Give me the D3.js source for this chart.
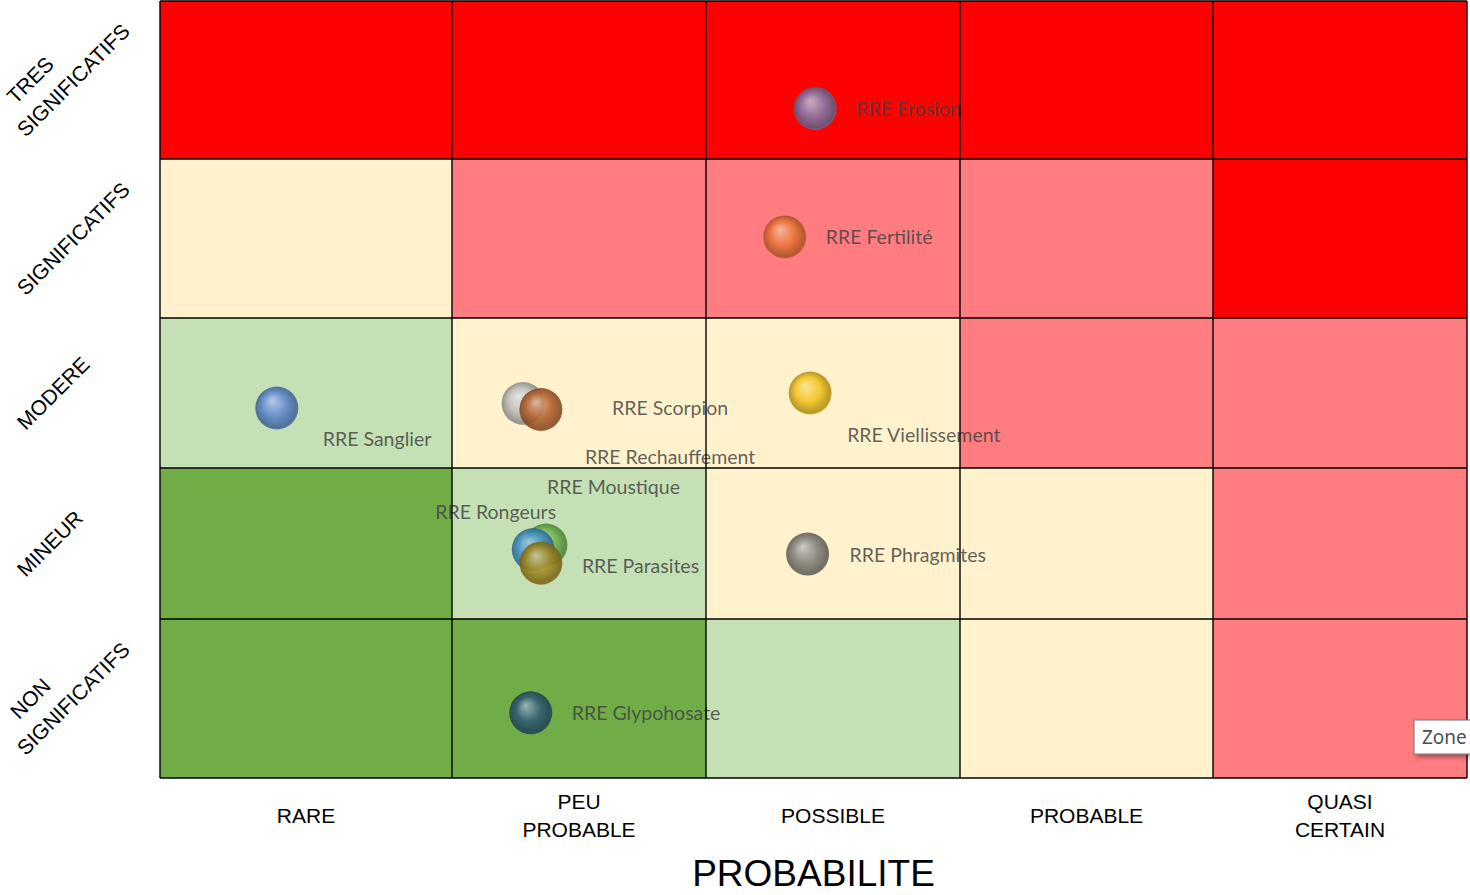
<!DOCTYPE html>
<html>
<head>
<meta charset="utf-8">
<script src="https://cdn.jsdelivr.net/npm/d3@7"></script>
<style>
  html, body { margin: 0; padding: 0; background: #fff; }
  svg { display: block; }
</style>
</head>
<body>
<svg id="chart" width="1470" height="895"></svg>
<script>
// ---------- DATA ----------
const probabilityLabels = [["RARE"], ["PEU", "PROBABLE"], ["POSSIBLE"], ["PROBABLE"], ["QUASI", "CERTAIN"]];
const impactLabels = [["NON", "SIGNIFICATIFS"], ["MINEUR"], ["MODERE"], ["SIGNIFICATIFS"], ["TRES", "SIGNIFICATIFS"]]; // bottom -> top
// risk level per cell, rows from bottom (NON SIGNIFICATIFS) to top, columns RARE -> QUASI CERTAIN
const riskLevels = [
  ["vert", "vert", "vertclair", "jaune", "rose"],
  ["vert", "vertclair", "jaune", "jaune", "rose"],
  ["vertclair", "jaune", "jaune", "rose", "rose"],
  ["jaune", "rose", "rose", "rose", "rouge"],
  ["rouge", "rouge", "rouge", "rouge", "rouge"]
];
const riskNames = ["RRE Moustique", "RRE Rongeurs", "RRE Parasites", "RRE Erosion", "RRE Fertilité", "RRE Sanglier",
                   "RRE Scorpion", "RRE Rechauffement", "RRE Viellissement", "RRE Phragmites", "RRE Glypohosate"];
const probabilityValues = [1.37, 1.32, 1.35, 2.43, 2.31, 0.40, 1.28, 1.35, 2.41, 2.40, 1.31];
const impactValues      = [1.49, 1.46, 1.37, 4.32, 3.51, 2.40, 2.43, 2.39, 2.50, 1.43, 0.41];
const axisTitle = "PROBABILITE";

// ---------- STYLE / LAYOUT ----------
const levelColors = { vert: "#70AD47", vertclair: "#C5E0B4", jaune: "#FFF2CC", rose: "#FF7C80", rouge: "#FF0000" };
const bubbleColors = ["#6DB24C", "#3F8FC2", "#A48A1E", "#857CAE", "#EA7437", "#5A86CC",
                      "#BDBDBD", "#B4602A", "#F2C21C", "#808078", "#2F5B73"];
// label offsets (px) relative to bubble centre
const labelOffsets = [[1, -59], [-98, -38], [41, 2], [41, 0], [41, 0], [46, 30],
                      [89, 4], [44, 47], [37, 41], [42, 0], [41, 0]];
const bubbleRadius = 21.5;

const svg = d3.select("#chart");
const colBounds = [160, 452, 706, 960, 1213, 1467];
const rowBounds = [778, 619, 468, 318, 159, 1];
const x = d3.scaleLinear().domain([0, 1, 2, 3, 4, 5]).range(colBounds);
const y = d3.scaleLinear().domain([0, 1, 2, 3, 4, 5]).range(rowBounds);

// ---------- CELLS ----------
const cells = [];
riskLevels.forEach((row, r) => row.forEach((lvl, c) => cells.push({ r, c, lvl })));
svg.append("g").selectAll("rect").data(cells).join("rect")
  .attr("x", d => x(d.c)).attr("y", d => y(d.r + 1))
  .attr("width", d => x(d.c + 1) - x(d.c))
  .attr("height", d => y(d.r) - y(d.r + 1))
  .attr("fill", d => levelColors[d.lvl]);

// ---------- GRADIENTS ----------
const defs = svg.append("defs");
bubbleColors.forEach((col, i) => {
  const base = d3.color(col);
  const g = defs.append("radialGradient").attr("id", "bg" + i)
    .attr("cx", "50%").attr("cy", "50%").attr("r", "52%").attr("fx", "38%").attr("fy", "32%");
  g.append("stop").attr("offset", "0%").attr("stop-color", d3.interpolateRgb(col, "#ffffff")(0.55));
  g.append("stop").attr("offset", "55%").attr("stop-color", col);
  g.append("stop").attr("offset", "90%").attr("stop-color", base.darker(0.9));
  g.append("stop").attr("offset", "100%").attr("stop-color", base.darker(0.5));
});
const shadow = defs.append("filter").attr("id", "shadow").attr("x", "-20%").attr("y", "-20%").attr("width", "150%").attr("height", "160%");
shadow.append("feDropShadow").attr("dx", 3).attr("dy", 3).attr("stdDeviation", 2).attr("flood-color", "#000").attr("flood-opacity", 0.35);

// ---------- LABELS (under the grid) ----------
const risks = riskNames.map((n, i) => ({ name: n, px: probabilityValues[i], py: impactValues[i], i }));
svg.append("g").selectAll("text").data(risks).join("text")
  .attr("x", d => x(d.px) + labelOffsets[d.i][0])
  .attr("y", d => y(d.py) + labelOffsets[d.i][1])
  .attr("dominant-baseline", "central")
  .attr("font-family", "Lato, 'Open Sans', sans-serif")
  .attr("font-size", 19.5)
  .attr("fill", "#404040").attr("fill-opacity", 0.82)
  .text(d => d.name);

// ---------- GRID LINES ----------
const grid = svg.append("g").attr("stroke", "#000").attr("stroke-width", 1.4);
d3.range(6).forEach(k => {
  grid.append("line").attr("x1", x(k)).attr("x2", x(k)).attr("y1", y(0)).attr("y2", y(5));
  grid.append("line").attr("x1", x(0)).attr("x2", x(5)).attr("y1", y(k)).attr("y2", y(k));
});

// ---------- BUBBLES ----------
svg.append("g").selectAll("circle").data(risks).join("circle")
  .attr("cx", d => x(d.px)).attr("cy", d => y(d.py))
  .attr("r", bubbleRadius)
  .attr("fill", d => `url(#bg${d.i})`)
  .attr("fill-opacity", 0.88);

// ---------- X AXIS LABELS ----------
const xl = svg.append("g").attr("font-family", "'Liberation Sans', Arial, sans-serif").attr("font-size", 21).attr("fill", "#000").attr("text-anchor", "middle");
probabilityLabels.forEach((lines, c) => {
  const cx = (x(c) + x(c + 1)) / 2;
  const t = xl.append("text").attr("x", cx).attr("y", 815).attr("dominant-baseline", "central");
  lines.forEach((ln, k) => {
    t.append("tspan").attr("x", cx).attr("y", 815 + (k - (lines.length - 1) / 2) * 28).text(ln);
  });
});
svg.append("text").attr("x", (x(0) + x(5)) / 2).attr("y", 886)
  .attr("text-anchor", "middle").attr("font-family", "'Liberation Sans', Arial, sans-serif")
  .attr("font-size", 37).attr("fill", "#000").text(axisTitle);

// ---------- Y AXIS LABELS (rotated -45) ----------
const yl = svg.append("g").attr("font-family", "'Liberation Sans', Arial, sans-serif").attr("font-size", 21).attr("fill", "#000");
impactLabels.forEach((lines, r) => {
  const cy = (y(r) + y(r + 1)) / 2;
  const last = lines[lines.length - 1];
  const tmp = yl.append("text").text(last);
  const w = tmp.node().getComputedTextLength();
  tmp.remove();
  const cxMain = 13 + (w + 21) * 0.354;
  lines.forEach((ln, k) => {
    const shift = (lines.length - 1 - k) * 43;
    yl.append("text")
      .attr("transform", `translate(${cxMain - shift},${cy}) rotate(-45)`)
      .attr("text-anchor", "middle").attr("dominant-baseline", "central")
      .text(ln);
  });
});

// ---------- "Zone" tooltip ----------
const tip = svg.append("g");
tip.append("rect").attr("x", 1414).attr("y", 720).attr("width", 70).attr("height", 34)
  .attr("fill", "#fff").attr("stroke", "#767676").attr("stroke-width", 1).attr("filter", "url(#shadow)");
tip.append("text").attr("x", 1422).attr("y", 737).attr("dominant-baseline", "central")
  .attr("font-family", "'Noto Sans', 'Open Sans', sans-serif").attr("font-size", 19).attr("fill", "#4a4f5a").text("Zone");
</script>
</body>
</html>
